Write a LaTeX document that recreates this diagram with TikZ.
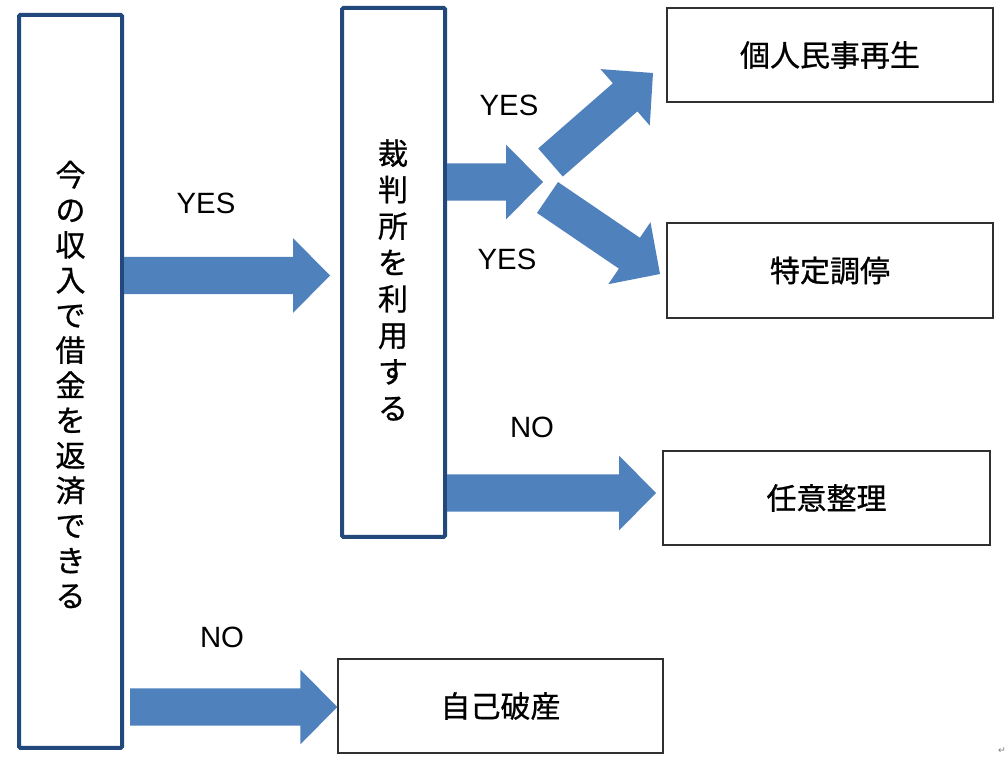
\documentclass[tikz,border=0pt]{standalone}
\usepackage{fontspec}
\setmainfont{Liberation Sans}
\newfontfamily\jp[FakeBold=0.8]{Noto Sans CJK JP}
\newfontfamily\dejavu{DejaVu Sans}
\usetikzlibrary{calc,fit}
\definecolor{navy}{HTML}{23487C}
\definecolor{arrowblue}{HTML}{4F81BD}
\definecolor{boxline}{HTML}{303030}
% block arrow from named tail coordinate #1 to named tip coordinate #2
\newcommand{\blockarrow}[2]{%
  \coordinate (#1#2b) at ($(#2)!27.75pt!(#1)$);
  \fill[arrowblue] ($(#1)!14pt!90:(#2)$) -- ($(#1#2b)!14pt!90:(#2)$)
    -- ($(#1#2b)!28.1pt!90:(#2)$) -- (#2)
    -- ($(#1#2b)!28.1pt!-90:(#2)$) -- ($(#1#2b)!14pt!-90:(#2)$)
    -- ($(#1)!14pt!-90:(#2)$) -- cycle;}
\begin{document}
\begin{tikzpicture}[x=0.75pt,y=-0.75pt,
  tallbox/.style={draw=navy, line width=3pt, inner sep=0pt, rounded corners=1pt},
  resbox/.style={draw=boxline, line width=1.1pt, inner sep=0pt},
  jptext/.style={font=\jp\fontsize{22.5}{27}\selectfont, inner sep=0pt},
  lbl/.style={font=\fontsize{22}{26}\selectfont, inner sep=0pt}]
\useasboundingbox (0,0) rectangle (1008,762);
\fill[white] (0,0) rectangle (1008,762);

% tall question boxes
\node[tallbox, fit={(19,15)(122,748)}] (q1) {};
\node[inner sep=0pt, align=center, font=\jp\fontsize{22.5}{26.3}\selectfont] (q1t) at (70.5,384.5)
  {今\\の\\収\\入\\で\\借\\金\\を\\返\\済\\で\\き\\る};
\node[tallbox, fit={(342,8)(445,537)}] (q2) {};
\node[inner sep=0pt, align=center, font=\jp\fontsize{22.5}{27.3}\selectfont] (q2t) at (393,280)
  {裁\\判\\所\\を\\利\\用\\す\\る};

% result boxes
\node[resbox, fit={(667,8)(993,102)}] (r1) {};
\node[jptext] (r1t) at (r1.center) {個人民事再生};
\node[resbox, fit={(667,223)(993,318)}] (r2) {};
\node[jptext] (r2t) at (r2.center) {特定調停};
\node[resbox, fit={(663,451)(990,545)}] (r3) {};
\node[jptext] (r3t) at (r3.center) {任意整理};
\node[resbox, fit={(338,659)(663,753)}] (r4) {};
\node[jptext] (r4t) at (r4.center) {自己破産};

% arrow end points
\coordinate (a1s) at (q1.east |- 0,275.5);
\coordinate (a1e) at (330,275.5);
\coordinate (a2s) at (q2.east |- 0,182);
\coordinate (a2e) at (543,182);
\coordinate (a3s) at (550.5,162.5);
\coordinate (a3e) at (653,73);
\coordinate (a4s) at (547.5,197.5);
\coordinate (a4e) at (660,274);
\coordinate (a5s) at (447,493);
\coordinate (a5e) at (656,493);
\coordinate (a6s) at (130,707);
\coordinate (a6e) at (r4.west |- 0,707);

\blockarrow{a1s}{a1e}
\blockarrow{a2s}{a2e}
\blockarrow{a3s}{a3e}
\blockarrow{a4s}{a4e}
\blockarrow{a5s}{a5e}
\blockarrow{a6s}{a6e}

% labels
\node[lbl] (l1) at (206,203) {YES};
\node[lbl] (l2) at (509,105) {YES};
\node[lbl] (l3) at (507,259) {YES};
\node[lbl] (l4) at (532,427) {NO};
\node[lbl] (l5) at (222,637) {NO};

% paragraph mark
\node[font=\dejavu\fontsize{7}{8}\selectfont, text=gray, inner sep=0pt] (pm) at (1002,751) {↵};
\end{tikzpicture}
\end{document}
